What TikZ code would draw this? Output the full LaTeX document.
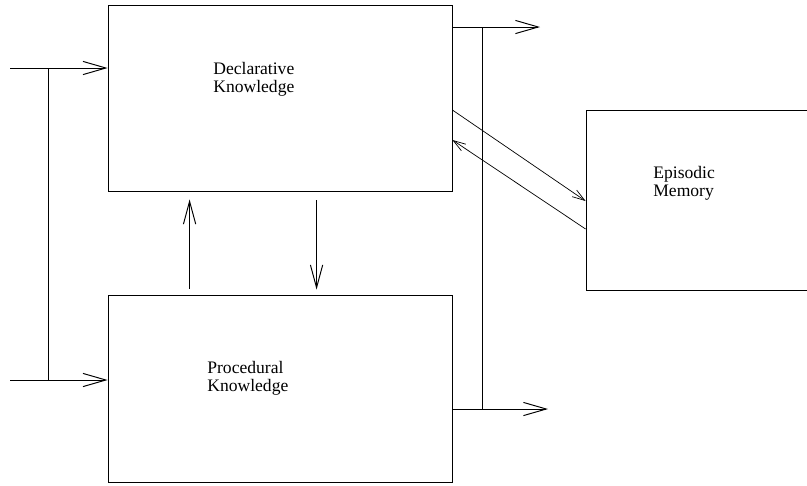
\documentclass[tikz,border=0pt]{standalone}
\usepackage{fontspec}
\setmainfont{Liberation Serif}
\usetikzlibrary{calc}
\usetikzlibrary{arrows.meta}
\tikzset{
  box/.style= {draw, rectangle, inner sep=0, line width=0.5pt},
  lbl/.style= {align=left, inner sep=0, anchor=north west, font=\fontsize{10}{10.3}\selectfont},
  arr/.style= {-{Straight Barb[length=13pt,width=7.5pt]}, line width=0.55pt},
  varr/.style= {-{Straight Barb[length=13pt,width=7pt]}, line width=0.55pt},
  darr/.style= {-{Straight Barb[length=7pt,width=4.5pt]}, line width=0.4pt},
}

\begin{document}
\begin{tikzpicture}[x=0.02cm, y=-0.02cm]
  \useasboundingbox (0,0) rectangle (807,485);
  \node [box, minimum width=6.88cm, minimum height=3.72cm] (decl) at (280,98) {};
  \node [box, minimum width=6.88cm, minimum height=3.74cm] (proc) at (280,388.5) {};
  \node [box, minimum width=4.88cm, minimum height=3.6cm] (epis) at (708,200) {};
  \node [lbl] (decltext) at (213,62) {Declarative\\Knowledge};
  \node [lbl] (proctext) at (207,361) {Procedural\\Knowledge};
  \node [lbl] (epistext) at (653,166) {Episodic\\Memory};

  % inputs on the left
  \coordinate (in1) at (10,68);
  \coordinate (in2) at (10,380);
  \coordinate (j1) at (48,68);
  \coordinate (j2) at (48,380);
  \draw [arr] (in1) -- (in1 -| decl.west);
  \draw [arr] (in2) -- (in2 -| proc.west);
  \draw [line width=0.55pt] (j1) -- (j2);

  % outputs on the right
  \coordinate (out1) at (540,27);
  \coordinate (out2) at (548,409);
  \coordinate (k1) at (482,27);
  \coordinate (k2) at (482,409);
  \draw [arr] (out1 -| decl.east) -- (out1);
  \draw [arr] (out2 -| proc.east) -- (out2);
  \draw [line width=0.55pt] (k1) -- (k2);

  % between the two knowledge boxes
  \draw [varr] ([xshift=1.64cm, yshift=0.12cm]proc.north west) -- ([xshift=1.64cm, yshift=-0.16cm]decl.south west);
  \draw [varr] ([xshift=4.18cm, yshift=-0.18cm]decl.south west) -- ([xshift=4.18cm, yshift=0.1cm]proc.north west);

  % to and from episodic memory
  \draw [darr] ([yshift=-0.24cm]decl.north east |- 0,98) -- ([yshift=-0.02cm]epis.west);
  \draw [darr] ([yshift=-0.58cm]epis.west) -- ([yshift=-0.84cm]decl.north east |- 0,98);
\end{tikzpicture}
\end{document}
